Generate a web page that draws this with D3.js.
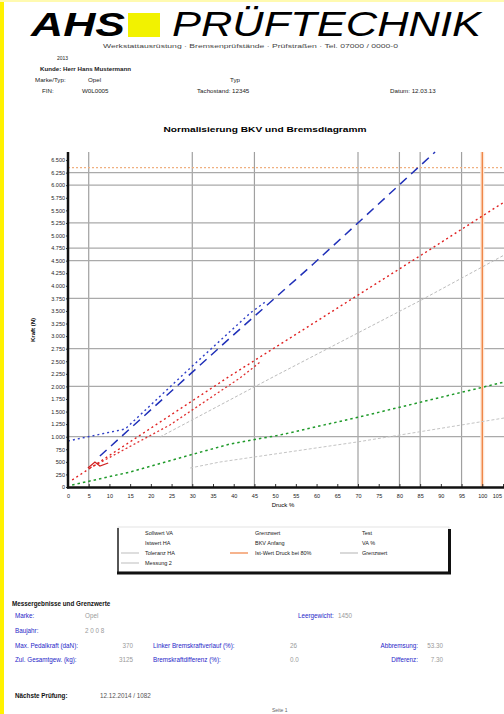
<!DOCTYPE html>
<html>
<head>
<meta charset="utf-8">
<script src="https://cdn.jsdelivr.net/npm/d3@7"></script>
<style>
body { margin: 0; background: #fff; }
svg { display: block; font-family: "Liberation Sans", Arial, sans-serif; }
</style>
</head>
<body>
<div id="page"></div>
<script>
// --- data ---
var xTickValues = [0, 5, 10, 15, 20, 25, 30, 35, 40, 45, 50, 55, 60, 65, 70, 75, 80, 85, 90, 95, 100, 105];
var yTickValues = [0, 250, 500, 750, 1000, 1250, 1500, 1750, 2000, 2250, 2500, 2750, 3000, 3250,
    3500, 3750, 4000, 4250, 4500, 4750, 5000, 5250, 5500, 5750, 6000, 6250, 6500];
var xGridValues = [5, 30, 45, 70, 80, 85, 95];
var yGridValues = [1000, 2000, 2750, 3750, 4500, 4750, 5250, 6000, 6250];
var refX = 100;      // orange vertical
var refY = 6350;     // orange dotted horizontal

var blueDashed = [[7.7, 616], [10.1, 795], [39.1, 2962], [59.2, 4433], [88.6, 6660]];
var blueDotted = [[0, 915], [13.8, 1153], [29.5, 2366], [44, 3459], [47.6, 3678]];
var redDotted1 = [[1, 139], [39.1, 2207], [85.3, 4612], [105.3, 5666]];
var redDotted2 = [[5.3, 378], [24.6, 1233], [41.5, 2167], [46.4, 2485]];
var redSolid = [[4.8, 378], [6.5, 497], [7.7, 417], [9.7, 477]];
var grayUpper = [[22.2, 994], [49.5, 2187], [85.3, 3718], [105.3, 4612]];
var grayLower = [[29.5, 378], [36.7, 497], [69.8, 895], [105.3, 1372]];
var greenDotted = [[1, 40], [5.3, 119], [15, 298], [29.5, 636], [39.1, 855], [51.2, 1034],
    [70.3, 1392], [85.3, 1690], [105.3, 2087]];

var legendCol1 = ["Sollwert VA", "Istwert HA", "Toleranz HA", "Messung 2"];
var legendCol2 = ["Grenzwert", "BKV Anfang", "Ist-Wert Druck bei 80%"];
var legendCol3 = ["Test", "VA %", "Grenzwert"];

var infoRows = [
    ["Kunde:", "Herr Hans Mustermann"],
    ["Marke/Typ:", "Opel"],
    ["FIN:", "W0L0005"]
];
var resultsLeft = [["Marke:", "Opel"], ["Baujahr:", "2 0 0 8"],
    ["Max. Pedalkraft (daN):", "370"], ["Zul. Gesamtgew. (kg):", "3125"]];
var resultsMid = [["Linker Bremskraftverlauf (%):", "26"], ["Bremskraftdifferenz (%):", "0.0"]];
var resultsRight = [["Abbremsung:", "53.30"], ["Differenz:", "7.30"]];

var W = 504, H = 714;
var svg = d3.select("#page").append("svg")
    .attr("width", W)
    .attr("height", H);

var de = d3.formatLocale({decimal: ",", thousands: ".", grouping: [3], currency: ["", " €"]});

// page frame
svg.append("rect").attr("x", 0).attr("y", 0).attr("width", W).attr("height", H).attr("fill", "#fff");
svg.append("rect").attr("x", 0).attr("y", 0).attr("width", 4).attr("height", H).attr("fill", "#fff200");
svg.append("rect").attr("x", 0).attr("y", 0).attr("width", W).attr("height", 2).attr("fill", "#fffab0");

// header
svg.append("text")
    .attr("x", 31).attr("y", 36)
    .attr("font-size", 34).attr("font-weight", "bold").attr("font-style", "italic")
    .attr("textLength", 94).attr("lengthAdjust", "spacingAndGlyphs")
    .text("AHS");
svg.append("rect")
    .attr("x", 128).attr("y", 13).attr("width", 32).attr("height", 24)
    .attr("fill", "#f2f200");
svg.append("text")
    .attr("x", 172).attr("y", 36)
    .attr("font-size", 35).attr("font-style", "italic")
    .attr("textLength", 309).attr("lengthAdjust", "spacingAndGlyphs")
    .text("PRÜFTECHNIK");
svg.append("text")
    .attr("x", 103).attr("y", 48)
    .attr("font-size", 5.5).attr("fill", "#444")
    .attr("textLength", 295).attr("lengthAdjust", "spacingAndGlyphs")
    .text("Werkstattausrüstung · Bremsenprüfstände · Prüfstraßen · Tel. 07000 / 0000-0");

// vehicle info
var info = svg.append("g").attr("font-size", 6.2).attr("fill", "#222");
info.append("text").attr("x", 57).attr("y", 60).attr("font-size", 5).text("2013");
info.append("text").attr("x", 40).attr("y", 71).attr("font-weight", "bold")
    .text(infoRows[0][0] + " " + infoRows[0][1]);
info.append("text").attr("x", 35).attr("y", 82).text(infoRows[1][0]);
info.append("text").attr("x", 88).attr("y", 82).text(infoRows[1][1]);
info.append("text").attr("x", 230).attr("y", 82).text("Typ");
info.append("text").attr("x", 42).attr("y", 93).text(infoRows[2][0]);
info.append("text").attr("x", 82).attr("y", 93).text(infoRows[2][1]);
info.append("text").attr("x", 197).attr("y", 93).text("Tachostand: 12345");
info.append("text").attr("x", 390).attr("y", 93).text("Datum: 12.03.13");

// chart
var x = d3.scaleLinear().domain([0, 105]).range([68, 503]);
var y = d3.scaleLinear().domain([0, 6660]).range([487, 152]);

svg.append("text")
    .attr("x", 265).attr("y", 132)
    .attr("font-size", 7.5).attr("font-weight", "bold")
    .attr("text-anchor", "middle")
    .attr("textLength", 203).attr("lengthAdjust", "spacingAndGlyphs")
    .text("Normalisierung BKV und Bremsdiagramm");

svg.append("defs").append("clipPath").attr("id", "plotClip")
    .append("rect").attr("x", 68).attr("y", 150).attr("width", W - 68).attr("height", 337);

var plot = svg.append("g").attr("clip-path", "url(#plotClip)");

plot.selectAll(".vgrid")
    .data(xGridValues)
    .enter().append("line")
    .attr("class", "vgrid")
    .attr("x1", function(d) { return x(d); })
    .attr("x2", function(d) { return x(d); })
    .attr("y1", 152).attr("y2", 487)
    .style("stroke", "#a0a0a0").style("stroke-width", 1.2);

plot.selectAll(".hgrid")
    .data(yGridValues)
    .enter().append("line")
    .attr("class", "hgrid")
    .attr("x1", 68).attr("x2", W)
    .attr("y1", function(d) { return y(d); })
    .attr("y2", function(d) { return y(d); })
    .style("stroke", "#aaaaaa").style("stroke-width", 1.2);

// orange reference lines
plot.append("line")
    .attr("x1", 68).attr("x2", W)
    .attr("y1", y(refY)).attr("y2", y(refY))
    .style("stroke", "#f0b080").style("stroke-width", 1.2).style("stroke-dasharray", "2,2");
plot.append("line")
    .attr("x1", x(refX)).attr("x2", x(refX))
    .attr("y1", 152).attr("y2", 487)
    .style("stroke", "#fde6d4").style("stroke-width", 4);
plot.append("line")
    .attr("x1", x(refX)).attr("x2", x(refX))
    .attr("y1", 152).attr("y2", 487)
    .style("stroke", "#ee8040").style("stroke-width", 1.3);

var line = d3.line()
    .x(function(d) { return x(d[0]); })
    .y(function(d) { return y(d[1]); });

var series = [
    {data: grayLower, color: "#c4c4c4", width: 1, dash: "3,2"},
    {data: grayUpper, color: "#bcbcbc", width: 1, dash: "3,2"},
    {data: greenDotted, color: "#1f9a2a", width: 1.5, dash: "2.5,3"},
    {data: redDotted2, color: "#e03030", width: 1.3, dash: "2,2.5"},
    {data: redDotted1, color: "#e02020", width: 1.4, dash: "2,3"},
    {data: redSolid, color: "#d02020", width: 1.3, dash: null},
    {data: blueDotted, color: "#3040c8", width: 1.4, dash: "2,3"},
    {data: blueDashed, color: "#2030b8", width: 1.5, dash: "9,6"}
];

plot.selectAll(".series")
    .data(series)
    .enter().append("path")
    .attr("class", "series")
    .attr("d", function(d) { return line(d.data); })
    .style("fill", "none")
    .style("stroke", function(d) { return d.color; })
    .style("stroke-width", function(d) { return d.width; })
    .style("stroke-dasharray", function(d) { return d.dash; });

// axes
var xAxis = d3.axisBottom(x)
    .tickValues(xTickValues)
    .tickSize(-3)
    .tickPadding(7)
    .tickFormat(d3.format("d"));
var yAxis = d3.axisLeft(y)
    .tickValues(yTickValues)
    .tickSize(2)
    .tickPadding(1)
    .tickFormat(de.format(",d"));

var gx = svg.append("g")
    .attr("transform", "translate(0,487)")
    .call(xAxis);
var gy = svg.append("g")
    .attr("transform", "translate(68,0)")
    .call(yAxis);
[gx, gy].forEach(function(g) {
    g.select(".domain").remove();
    g.selectAll("text").attr("font-size", 5.5).attr("fill", "#222")
        .attr("font-family", "Liberation Sans, Arial, sans-serif");
    g.selectAll(".tick line").style("stroke", "#333");
});
// last x label sits at the page edge
gx.selectAll(".tick text").filter(function(d) { return d === 105; })
    .attr("text-anchor", "end").attr("dx", -1.5);

svg.append("line").attr("x1", 68).attr("x2", 68).attr("y1", 152).attr("y2", 488.5)
    .style("stroke", "#111").style("stroke-width", 2.5);
svg.append("line").attr("x1", 67).attr("x2", W).attr("y1", 487.5).attr("y2", 487.5)
    .style("stroke", "#111").style("stroke-width", 2.5);

svg.append("text")
    .attr("x", 283).attr("y", 507)
    .attr("font-size", 6).attr("text-anchor", "middle")
    .text("Druck %");
svg.append("text")
    .attr("transform", "translate(35,330) rotate(-90)")
    .attr("font-size", 6).attr("font-weight", "bold").attr("text-anchor", "middle")
    .text("Kraft (N)");

// legend
var lg = svg.append("g");
lg.append("rect").attr("x", 118).attr("y", 527).attr("width", 331).attr("height", 45)
    .style("fill", "#fff").style("stroke", "#ddd").style("stroke-width", 0.8);
lg.append("line").attr("x1", 118).attr("x2", 118).attr("y1", 528).attr("y2", 573)
    .style("stroke", "#222").style("stroke-width", 1.5);
lg.append("line").attr("x1", 117).attr("x2", 451).attr("y1", 573).attr("y2", 573)
    .style("stroke", "#111").style("stroke-width", 3);
lg.append("line").attr("x1", 449.5).attr("x2", 449.5).attr("y1", 529).attr("y2", 574)
    .style("stroke", "#111").style("stroke-width", 3);

var legendRowsY = [535, 545, 555, 565];
var legendCols = [
    {labels: legendCol1, x: 145, samples: {2: "#c8c8c8", 3: "#c8c8c8"}, sx: 121},
    {labels: legendCol2, x: 255, samples: {2: "#f08040"}, sx: 230},
    {labels: legendCol3, x: 362, samples: {2: "#c0c0c0"}, sx: 340}
];
legendCols.forEach(function(col) {
    lg.selectAll(null)
        .data(col.labels)
        .enter().append("text")
        .attr("x", col.x)
        .attr("y", function(d, i) { return legendRowsY[i]; })
        .attr("font-size", 5.5).attr("fill", "#222")
        .text(function(d) { return d; });
    Object.keys(col.samples).forEach(function(k) {
        lg.append("line")
            .attr("x1", col.sx).attr("x2", col.sx + 18)
            .attr("y1", legendRowsY[k] - 2).attr("y2", legendRowsY[k] - 2)
            .style("stroke", col.samples[k]).style("stroke-width", 1.2);
    });
});

// results block
var res = svg.append("g").attr("font-size", 6.3);
res.append("text").attr("x", 12).attr("y", 606).attr("font-weight", "bold").attr("fill", "#111")
    .text("Messergebnisse und Grenzwerte");

var rowY = [618, 633, 648, 662];
var blue = "#2626c8", gray = "#9a9a9a";
res.selectAll(".lk").data(resultsLeft).enter().append("text")
    .attr("x", 15).attr("y", function(d, i) { return rowY[i]; })
    .attr("fill", blue).text(function(d) { return d[0]; });
res.selectAll(".lv").data(resultsLeft).enter().append("text")
    .attr("x", function(d, i) { return i < 2 ? 85 : 133; })
    .attr("text-anchor", function(d, i) { return i < 2 ? "start" : "end"; })
    .attr("y", function(d, i) { return rowY[i]; })
    .attr("fill", gray).text(function(d) { return d[1]; });
res.append("text").attr("x", 298).attr("y", rowY[0]).attr("fill", blue).text("Leergewicht:");
res.append("text").attr("x", 338).attr("y", rowY[0]).attr("fill", gray).text("1450");
res.selectAll(".mk").data(resultsMid).enter().append("text")
    .attr("x", 153).attr("y", function(d, i) { return rowY[i + 2]; })
    .attr("fill", blue).text(function(d) { return d[0]; });
res.selectAll(".mv").data(resultsMid).enter().append("text")
    .attr("x", 290).attr("y", function(d, i) { return rowY[i + 2]; })
    .attr("fill", gray).text(function(d) { return d[1]; });
res.selectAll(".rk").data(resultsRight).enter().append("text")
    .attr("x", 418).attr("text-anchor", "end").attr("y", function(d, i) { return rowY[i + 2]; })
    .attr("fill", blue).text(function(d) { return d[0]; });
res.selectAll(".rv").data(resultsRight).enter().append("text")
    .attr("x", 443).attr("text-anchor", "end").attr("y", function(d, i) { return rowY[i + 2]; })
    .attr("fill", gray).text(function(d) { return d[1]; });

res.append("text").attr("x", 15).attr("y", 698).attr("font-weight", "bold").attr("fill", "#111")
    .text("Nächste Prüfung:");
res.append("text").attr("x", 100).attr("y", 698).attr("fill", "#555").text("12.12.2014 / 1082");
res.append("text").attr("x", 272).attr("y", 712).attr("font-size", 5).attr("fill", "#666").text("Seite 1");
</script>
</body>
</html>
